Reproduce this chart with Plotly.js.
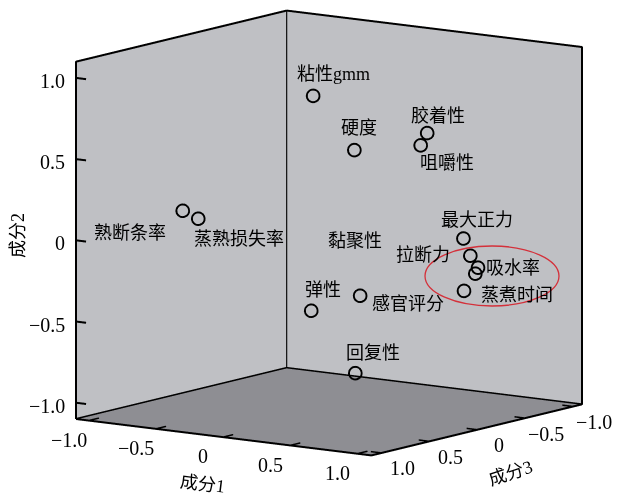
<!DOCTYPE html>
<html>
<head>
<meta charset="utf-8">
<script src="https://cdn.plot.ly/plotly-3.0.1.min.js"></script>
<style>html,body{margin:0;padding:0;background:#fff;}#chart{width:618px;height:495px;}</style>
</head>
<body>
<div id="chart"></div>
<script>
// ---- data ----
const varNames = ['粘性gmm','硬度','胶着性','咀嚼性','熟断条率','蒸熟损失率','黏聚性','最大正力','拉断力','吸水率','蒸煮时间','弹性','感官评分','回复性'];
const comp1 = [0.10, 0.30, 0.60, 0.58, -0.85, -0.82, 0.88, 0.82, 0.85, 0.90, 0.86, 0.15, 0.40, 0.20];
const comp2 = [0.90, 0.565, 0.652, 0.58, 0.10, 0.037, -0.201, 0.015, -0.092, -0.162, -0.296, -0.405, -0.31, -0.84];
const comp3 = [0.31, 0.16, -0.18, -0.14, 0.34, 0.22, -0.29, -0.25, -0.28, -0.29, -0.20, 0.40, 0.24, 0.01];
const tickVals = [-1, -0.5, 0, 0.5, 1];
const tickText = ['\u22121.0', '\u22120.5', '0', '0.5', '1.0'];
const axisTitles = ['成分1', '成分2', '成分3'];

// ---- label offsets (px) ----
const labDX = [21, 5, 11, 27, -52, 41, -120, 14, -47, 36, 54, 12, 48, 18];
const labDY = [22, 22, 17, -18, -22, -20, 33, 18, 1, 0, -4, 21, -8, 20];

const R = 1.1;
const wall = 'rgb(191,192,196)';
const floorC = 'rgb(142,142,147)';
const serif = 'Liberation Serif, Times New Roman, Noto Sans CJK SC, serif';
const labFont = {family: serif, size: 18, color: '#000'};
const tickFont = {family: serif, size: 20, color: '#000'};

// plotly x = 成分3, y = 成分1, z = 成分2
const corners = {
  LB: [R, -R, -R], LT: [R, -R, R], BT: [-R, -R, R], BB: [-R, -R, -R],
  RT: [-R, R, R], RB: [-R, R, -R], F: [R, R, -R]
};
const path = ['LB','LT','BT','BB','LB',null,'BT','RT','RB','BB',null,'LB','F','RB'];
const ex = [], ey = [], ez = [];
path.forEach(k => {
  if (k === null) { ex.push(null); ey.push(null); ez.push(null); }
  else { ex.push(corners[k][0]); ey.push(corners[k][1]); ez.push(corners[k][2]); }
});

// tick marks (inside)
const tx = [], ty = [], tz = [];
const L1 = 0.075, L3 = 0.1;
tickVals.forEach(t => {
  tx.push(R, R - L3, null); ty.push(t, t, null); tz.push(-R, -R, null);
  tx.push(t, t, null); ty.push(R, R - L1, null); tz.push(-R, -R, null);
  tx.push(R, R, null); ty.push(-R, -R + L1, null); tz.push(t, t, null);
});

const traces = [
  {type: 'scatter3d', mode: 'lines', x: ex, y: ey, z: ez,
   line: {color: '#000', width: 4}, hoverinfo: 'skip', showlegend: false, connectgaps: false},
  {type: 'scatter3d', mode: 'lines', x: tx, y: ty, z: tz,
   line: {color: '#000', width: 4}, hoverinfo: 'skip', showlegend: false, connectgaps: false},
  {type: 'scatter3d', mode: 'markers', x: comp3, y: comp1, z: comp2, text: varNames,
   marker: {symbol: 'circle-open', size: 8, color: '#000', line: {color: '#000', width: 1}},
   hoverinfo: 'skip', showlegend: false}
];

const axBase = {
  range: [-R, R], autorange: false, tickmode: 'array', tickvals: tickVals,
  showgrid: false, zeroline: false, showline: false, showspikes: false,
  ticks: '', showticklabels: false, title: {text: ''},
  showbackground: true
};

const ann = varNames.map((n, i) => ({
  x: comp3[i], y: comp1[i], z: comp2[i], text: n, showarrow: false,
  xshift: labDX[i], yshift: labDY[i], font: labFont
}));
tickVals.forEach((t, i) => {
  ann.push({x: R, y: -R, z: t, text: tickText[i], showarrow: false, xanchor: 'right',
            xshift: -9, yshift: -3, font: tickFont});
  ann.push({x: R, y: t, z: -R, text: tickText[i], showarrow: false,
            xshift: -20, yshift: -19, font: tickFont});
  ann.push({x: t, y: R, z: -R, text: tickText[i], showarrow: false,
            xshift: 22, yshift: -15, font: tickFont});
});
ann.push({x: R, y: 0, z: -R, text: axisTitles[0], showarrow: false, xshift: -21, yshift: -47, textangle: 7, font: labFont});
ann.push({x: R, y: -R, z: 0, text: axisTitles[1], showarrow: false, xshift: -57, yshift: 5, textangle: -90, font: labFont});
ann.push({x: 0, y: R, z: -R, text: axisTitles[2], showarrow: false, xshift: 34, yshift: -43, textangle: -18, font: labFont});

const S = 1.557;
const layout = {
  width: 618, height: 495,
  margin: {l: 0, r: 0, t: 0, b: 0},
  paper_bgcolor: '#fff',
  showlegend: false,
  scene: {
    domain: {x: [0.064, 1], y: [0.058, 1]},
    aspectmode: 'manual',
    aspectratio: {x: S, y: S, z: S},
    camera: {
      eye: {x: 0.802, y: 0.572, z: 0.173},
      up: {x: 0, y: 0, z: 1}, center: {x: 0, y: 0, z: 0},
      projection: {type: 'orthographic'}
    },
    xaxis: Object.assign({}, axBase, {backgroundcolor: wall}),
    yaxis: Object.assign({}, axBase, {backgroundcolor: wall}),
    zaxis: Object.assign({}, axBase, {backgroundcolor: floorC}),
    annotations: ann
  },
  shapes: [{
    type: 'circle', xref: 'paper', yref: 'paper',
    x0: 425 / 618, x1: 559 / 618, y0: (495 - 306) / 495, y1: (495 - 246) / 495,
    line: {color: 'rgb(212,48,58)', width: 1.3}
  }]
};

Plotly.newPlot('chart', traces, layout, {displayModeBar: false});
</script>
</body>
</html>
